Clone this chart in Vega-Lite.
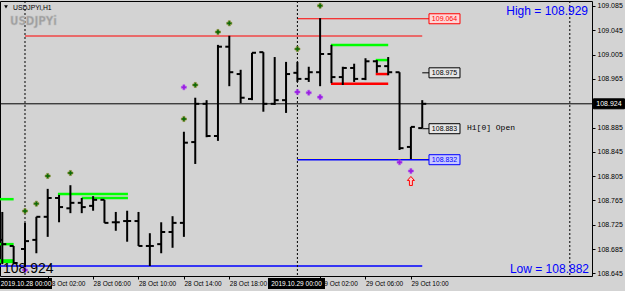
{
 "$schema": "https://vega.github.io/schema/vega-lite/v6.json",
 "width": 592, "height": 275,
 "autosize": {"type": "none"},
 "padding": {"left": 0, "top": 1, "right": 33, "bottom": 15},
 "background": "#d3d3d3",
 "config": {"view": {"stroke": "#000000", "strokeWidth": 1}},
 "resolve": {"axis": {"x": "independent", "y": "independent"}, "scale": {"color": "independent", "fill": "independent", "stroke": "independent"}},
 "datasets": {
  "bars": [
   {"h": -2, "o": 108.700, "hi": 108.746, "lo": 108.660, "c": 108.693},
   {"h": -1, "o": 108.690, "hi": 108.690, "lo": 108.660, "c": 108.662},
   {"h": 0, "o": 108.685, "hi": 108.728, "lo": 108.655, "c": 108.698},
   {"h": 1, "o": 108.700, "hi": 108.738, "lo": 108.678, "c": 108.738},
   {"h": 2, "o": 108.738, "hi": 108.784, "lo": 108.705, "c": 108.769},
   {"h": 3, "o": 108.769, "hi": 108.774, "lo": 108.729, "c": 108.754},
   {"h": 4, "o": 108.752, "hi": 108.790, "lo": 108.744, "c": 108.761},
   {"h": 5, "o": 108.761, "hi": 108.769, "lo": 108.744, "c": 108.754},
   {"h": 6, "o": 108.756, "hi": 108.772, "lo": 108.748, "c": 108.766},
   {"h": 7, "o": 108.766, "hi": 108.766, "lo": 108.728, "c": 108.728},
   {"h": 8, "o": 108.729, "hi": 108.746, "lo": 108.715, "c": 108.729},
   {"h": 9, "o": 108.731, "hi": 108.748, "lo": 108.697, "c": 108.731},
   {"h": 10, "o": 108.731, "hi": 108.746, "lo": 108.690, "c": 108.690},
   {"h": 11, "o": 108.690, "hi": 108.711, "lo": 108.657, "c": 108.690},
   {"h": 12, "o": 108.693, "hi": 108.729, "lo": 108.678, "c": 108.713},
   {"h": 13, "o": 108.713, "hi": 108.739, "lo": 108.687, "c": 108.728},
   {"h": 14, "o": 108.728, "hi": 108.878, "lo": 108.705, "c": 108.860},
   {"h": 15, "o": 108.861, "hi": 108.934, "lo": 108.825, "c": 108.924},
   {"h": 16, "o": 108.924, "hi": 108.930, "lo": 108.869, "c": 108.871},
   {"h": 17, "o": 108.871, "hi": 109.021, "lo": 108.863, "c": 109.018},
   {"h": 18, "o": 109.018, "hi": 109.036, "lo": 108.953, "c": 108.976},
   {"h": 19, "o": 108.973, "hi": 108.980, "lo": 108.925, "c": 108.934},
   {"h": 20, "o": 108.932, "hi": 109.008, "lo": 108.930, "c": 109.008},
   {"h": 21, "o": 109.009, "hi": 109.009, "lo": 108.911, "c": 108.924},
   {"h": 22, "o": 108.924, "hi": 109.001, "lo": 108.922, "c": 108.930},
   {"h": 23, "o": 108.930, "hi": 108.993, "lo": 108.909, "c": 108.973},
   {"h": 24, "o": 108.975, "hi": 108.993, "lo": 108.960, "c": 108.965},
   {"h": 25, "o": 108.965, "hi": 108.985, "lo": 108.960, "c": 108.976},
   {"h": 26, "o": 108.976, "hi": 109.065, "lo": 108.953, "c": 109.006},
   {"h": 27, "o": 109.006, "hi": 109.021, "lo": 108.958, "c": 108.968},
   {"h": 28, "o": 108.968, "hi": 108.985, "lo": 108.955, "c": 108.983},
   {"h": 29, "o": 108.983, "hi": 108.990, "lo": 108.960, "c": 108.965},
   {"h": 30, "o": 108.965, "hi": 108.999, "lo": 108.963, "c": 108.994},
   {"h": 31, "o": 108.994, "hi": 108.996, "lo": 108.975, "c": 108.986},
   {"h": 32, "o": 108.986, "hi": 109.001, "lo": 108.971, "c": 108.976},
   {"h": 33, "o": 108.976, "hi": 108.976, "lo": 108.848, "c": 108.851},
   {"h": 34, "o": 108.853, "hi": 108.886, "lo": 108.833, "c": 108.886},
   {"h": 35, "o": 108.884, "hi": 108.930, "lo": 108.884, "c": 108.924}
  ],
  "levels": [
   {"kind": "red1", "h": 0, "h2": 35, "p": 109.0356},
   {"kind": "red1", "h": 24, "h2": 35.6, "p": 109.064},
   {"kind": "black1", "h": -2.2026, "h2": 49.956, "p": 108.924},
   {"kind": "blue1", "h": -2.2026, "h2": 35, "p": 108.657},
   {"kind": "khaki", "h": 24, "h2": 35.6, "p": 108.8338},
   {"kind": "blue1", "h": 24, "h2": 35.6, "p": 108.832},
   {"kind": "black1", "h": 35, "h2": 35.6, "p": 108.975},
   {"kind": "black1", "h": 35, "h2": 35.6, "p": 108.883},
   {"kind": "green2", "h": -2.2026, "h2": -1.0, "p": 108.767},
   {"kind": "green2", "h": -2.2026, "h2": -1.0, "p": 108.693},
   {"kind": "green4", "h": -2.2026, "h2": -1.0, "p": 108.665},
   {"kind": "green2", "h": 2.9, "h2": 9.07, "p": 108.7755},
   {"kind": "green2", "h": 5.0, "h2": 9.07, "p": 108.769},
   {"kind": "green2", "h": 26.96, "h2": 32, "p": 109.021},
   {"kind": "red2", "h": 26.96, "h2": 32, "p": 108.957},
   {"kind": "green2", "h": 30.9, "h2": 32, "p": 108.996},
   {"kind": "red2", "h": 30.9, "h2": 32, "p": 108.973}
  ],
  "dots": [
   {"kind": "green", "h": 0, "p": 108.7475},
   {"kind": "green", "h": 1, "p": 108.7596},
   {"kind": "green", "h": 2, "p": 108.8052},
   {"kind": "green", "h": 4, "p": 108.8101},
   {"kind": "green", "h": 14, "p": 108.899},
   {"kind": "green", "h": 15, "p": 108.955},
   {"kind": "green", "h": 17, "p": 109.0422},
   {"kind": "green", "h": 18, "p": 109.0565},
   {"kind": "green", "h": 24, "p": 109.0142},
   {"kind": "green", "h": 26, "p": 109.0855},
   {"kind": "purple", "h": 0, "p": 108.6505},
   {"kind": "purple", "h": 14, "p": 108.9512},
   {"kind": "purple", "h": 24, "p": 108.9434},
   {"kind": "purple", "h": 25, "p": 108.9423},
   {"kind": "purple", "h": 26, "p": 108.935},
   {"kind": "purple", "h": 33, "p": 108.8277},
   {"kind": "purple", "h": 34, "p": 108.8134}
  ],
  "tags": [
   {"kind": "red", "h": 36.96, "p": 109.064, "label": "109.064"},
   {"kind": "black", "h": 36.96, "p": 108.975, "label": "108.975"},
   {"kind": "black", "h": 36.96, "p": 108.883, "label": "108.883"},
   {"kind": "blue", "h": 36.96, "p": 108.832, "label": "108.832"},
   {"kind": "cur", "h": 51.45, "p": 108.924, "label": "108.924"}
  ],
  "dates": [
   {"kind": "d1", "h": 0.088, "p": 108.6282, "label": "2019.10.28 00:00"},
   {"kind": "d2", "h": 23.92, "p": 108.6282, "label": "2019.10.29 00:00"}
  ]
 },
 "layer": [
  {
   "data": {"name": "levels"},
   "transform": [{"filter": {"field": "kind", "oneOf": ["red1", "black1", "khaki"]}}],
   "mark": {"type": "rule", "strokeWidth": 1},
   "encoding": {
    "x": {"field": "h", "type": "quantitative", "scale": {"domain": [-2.2026, 49.956], "nice": false, "zero": false}, "axis": null},
    "x2": {"field": "h2"},
    "y": {"field": "p", "type": "quantitative", "scale": {"domain": [108.64056, 109.09323], "nice": false, "zero": false}, "axis": null},
    "color": {"field": "kind", "type": "nominal", "legend": null, "scale": {"domain": ["red1", "red2", "black1", "blue1", "khaki", "green2", "green4"], "range": ["#ff0000", "#ff0000", "#000000", "#0000ff", "#e8e08a", "#00ff00", "#00ff00"]}}
   }
  },
  {
   "data": {"name": "levels"},
   "transform": [{"filter": {"field": "kind", "oneOf": ["blue1"]}}],
   "mark": {"type": "rule", "strokeWidth": 1.5},
   "encoding": {
    "x": {"field": "h", "type": "quantitative", "scale": {"domain": [-2.2026, 49.956], "nice": false, "zero": false}, "axis": null},
    "x2": {"field": "h2"},
    "y": {"field": "p", "type": "quantitative", "scale": {"domain": [108.64056, 109.09323], "nice": false, "zero": false}, "axis": null},
    "color": {"field": "kind", "type": "nominal", "legend": null, "scale": {"domain": ["red1", "red2", "black1", "blue1", "khaki", "green2", "green4"], "range": ["#ff0000", "#ff0000", "#000000", "#0000ff", "#e8e08a", "#00ff00", "#00ff00"]}}
   }
  },
  {
   "data": {"name": "levels"},
   "transform": [{"filter": {"field": "kind", "oneOf": ["green2", "red2"]}}],
   "mark": {"type": "rule", "strokeWidth": 2.5},
   "encoding": {
    "x": {"field": "h", "type": "quantitative", "scale": {"domain": [-2.2026, 49.956], "nice": false, "zero": false}, "axis": null},
    "x2": {"field": "h2"},
    "y": {"field": "p", "type": "quantitative", "scale": {"domain": [108.64056, 109.09323], "nice": false, "zero": false}, "axis": null},
    "color": {"field": "kind", "type": "nominal", "legend": null, "scale": {"domain": ["red1", "red2", "black1", "blue1", "khaki", "green2", "green4"], "range": ["#ff0000", "#ff0000", "#000000", "#0000ff", "#e8e08a", "#00ff00", "#00ff00"]}}
   }
  },
  {
   "data": {"name": "levels"},
   "transform": [{"filter": {"field": "kind", "oneOf": ["green4"]}}],
   "mark": {"type": "rule", "strokeWidth": 4},
   "encoding": {
    "x": {"field": "h", "type": "quantitative", "scale": {"domain": [-2.2026, 49.956], "nice": false, "zero": false}, "axis": null},
    "x2": {"field": "h2"},
    "y": {"field": "p", "type": "quantitative", "scale": {"domain": [108.64056, 109.09323], "nice": false, "zero": false}, "axis": null},
    "color": {"field": "kind", "type": "nominal", "legend": null, "scale": {"domain": ["red1", "red2", "black1", "blue1", "khaki", "green2", "green4"], "range": ["#ff0000", "#ff0000", "#000000", "#0000ff", "#e8e08a", "#00ff00", "#00ff00"]}}
   }
  },
  {
   "data": {"values": [{"h": 0}, {"h": 24}, {"h": 48}]},
   "mark": {"type": "rule", "color": "#000000", "strokeWidth": 1, "strokeDash": [2, 2]},
   "encoding": {
    "x": {"field": "h", "type": "quantitative", "scale": {"domain": [-2.2026, 49.956], "nice": false, "zero": false}, "axis": null}
   }
  },
  {
   "data": {"name": "bars"},
   "mark": {"type": "rule", "color": "#000000", "strokeWidth": 2},
   "encoding": {
    "x": {"field": "h", "type": "quantitative", "scale": {"domain": [-2.2026, 49.956], "nice": false, "zero": false},
     "axis": {"orient": "bottom", "values": [2, 6, 10, 14, 18, 26, 30, 34],
      "labelExpr": "(datum.value < 24 ? '28 Oct ' : '29 Oct ') + ((datum.value % 24) < 10 ? '0' : '') + (datum.value % 24) + ':00'",
      "labelAlign": "left", "labelBaseline": "top", "labelPadding": 1, "labelFont": "Liberation Sans", "labelFontSize": 6.5,
      "labelColor": "#000000", "tickColor": "#000000", "tickSize": 3, "domain": false, "grid": false, "title": null,
      "labelFlush": false, "labelOverlap": false, "labelBound": false}},
    "y": {"field": "lo", "type": "quantitative", "scale": {"domain": [108.64056, 109.09323], "nice": false, "zero": false},
     "axis": {"orient": "right", "values": [109.085, 109.045, 109.005, 108.965, 108.885, 108.845, 108.805, 108.765, 108.725, 108.685, 108.645],
      "format": ".3f", "labelFont": "Liberation Sans", "labelFontSize": 7, "labelColor": "#000000", "tickColor": "#000000",
      "tickSize": 3, "labelPadding": 2, "domain": false, "grid": false, "title": null, "labelOverlap": false, "labelFlush": false, "labelBaseline": "middle"}},
    "y2": {"field": "hi"}
   }
  },
  {
   "data": {"name": "bars"},
   "mark": {"type": "tick", "orient": "horizontal", "size": 4, "thickness": 2, "xOffset": -2, "color": "#000000", "opacity": 1},
   "encoding": {
    "x": {"field": "h", "type": "quantitative", "scale": {"domain": [-2.2026, 49.956], "nice": false, "zero": false}, "axis": null},
    "y": {"field": "o", "type": "quantitative", "scale": {"domain": [108.64056, 109.09323], "nice": false, "zero": false}, "axis": null}
   }
  },
  {
   "data": {"name": "bars"},
   "mark": {"type": "tick", "orient": "horizontal", "size": 4, "thickness": 2, "xOffset": 2, "color": "#000000", "opacity": 1},
   "encoding": {
    "x": {"field": "h", "type": "quantitative", "scale": {"domain": [-2.2026, 49.956], "nice": false, "zero": false}, "axis": null},
    "y": {"field": "c", "type": "quantitative", "scale": {"domain": [108.64056, 109.09323], "nice": false, "zero": false}, "axis": null}
   }
  },
  {
   "data": {"name": "dots"},
   "transform": [{"filter": "datum.kind == 'green'"}],
   "mark": {"type": "point", "shape": "cross", "size": 26, "filled": true, "fill": "#0b6b0b", "stroke": "#8c8c2a", "strokeWidth": 0.6, "opacity": 1},
   "encoding": {
    "x": {"field": "h", "type": "quantitative", "scale": {"domain": [-2.2026, 49.956], "nice": false, "zero": false}, "axis": null},
    "y": {"field": "p", "type": "quantitative", "scale": {"domain": [108.64056, 109.09323], "nice": false, "zero": false}, "axis": null}
   }
  },
  {
   "data": {"name": "dots"},
   "transform": [{"filter": "datum.kind == 'purple'"}],
   "mark": {"type": "point", "shape": "cross", "size": 26, "filled": true, "fill": "#9a1fe0", "stroke": "#b050f0", "strokeWidth": 0.5, "opacity": 1},
   "encoding": {
    "x": {"field": "h", "type": "quantitative", "scale": {"domain": [-2.2026, 49.956], "nice": false, "zero": false}, "axis": null},
    "y": {"field": "p", "type": "quantitative", "scale": {"domain": [108.64056, 109.09323], "nice": false, "zero": false}, "axis": null}
   }
  },
  {
   "data": {"values": [{"h": 34, "p": 108.797}]},
   "mark": {"type": "point", "shape": "M0,-1L0.78,-0.11L0.33,-0.11L0.33,1L-0.33,1L-0.33,-0.11L-0.78,-0.11Z", "size": 81, "filled": true, "fill": "#ffc8c8", "stroke": "#ff0000", "strokeWidth": 1, "opacity": 1},
   "encoding": {
    "x": {"field": "h", "type": "quantitative", "scale": {"domain": [-2.2026, 49.956], "nice": false, "zero": false}, "axis": null},
    "y": {"field": "p", "type": "quantitative", "scale": {"domain": [108.64056, 109.09323], "nice": false, "zero": false}, "axis": null}
   }
  },
  {
   "data": {"name": "tags"},
   "mark": {"type": "point", "shape": "M-1,-0.3226L1,-0.3226L1,0.3226L-1,0.3226Z", "size": 961, "filled": true, "strokeWidth": 1, "opacity": 1},
   "encoding": {
    "x": {"field": "h", "type": "quantitative", "scale": {"domain": [-2.2026, 49.956], "nice": false, "zero": false}, "axis": null},
    "y": {"field": "p", "type": "quantitative", "scale": {"domain": [108.64056, 109.09323], "nice": false, "zero": false}, "axis": null},
    "fill": {"field": "kind", "type": "nominal", "legend": null, "scale": {"domain": ["red", "black", "blue", "cur"], "range": ["#ffd6d6", "#e6e6e6", "#c8c8ff", "#000000"]}},
    "stroke": {"field": "kind", "type": "nominal", "legend": null, "scale": {"domain": ["red", "black", "blue", "cur"], "range": ["#ff0000", "#000000", "#0000ff", "#000000"]}}
   }
  },
  {
   "data": {"name": "tags"},
   "mark": {"type": "text", "align": "center", "baseline": "middle", "font": "Liberation Sans", "fontSize": 7},
   "encoding": {
    "x": {"field": "h", "type": "quantitative", "scale": {"domain": [-2.2026, 49.956], "nice": false, "zero": false}, "axis": null},
    "y": {"field": "p", "type": "quantitative", "scale": {"domain": [108.64056, 109.09323], "nice": false, "zero": false}, "axis": null},
    "text": {"field": "label"},
    "color": {"field": "kind", "type": "nominal", "legend": null, "scale": {"domain": ["red", "black", "blue", "cur"], "range": ["#ff0000", "#000000", "#0000ff", "#ffffff"]}}
   }
  },
  {
   "data": {"name": "dates"},
   "transform": [{"filter": "datum.kind == 'd1'"}],
   "mark": {"type": "point", "shape": "M-1,-0.2115L1,-0.2115L1,0.2115L-1,0.2115Z", "size": 2704, "filled": true, "fill": "#000000", "opacity": 1},
   "encoding": {
    "x": {"field": "h", "type": "quantitative", "scale": {"domain": [-2.2026, 49.956], "nice": false, "zero": false}, "axis": null},
    "y": {"field": "p", "type": "quantitative", "scale": {"domain": [108.64056, 109.09323], "nice": false, "zero": false}, "axis": null}
   }
  },
  {
   "data": {"name": "dates"},
   "transform": [{"filter": "datum.kind == 'd2'"}],
   "mark": {"type": "point", "shape": "M-1,-0.193L1,-0.193L1,0.193L-1,0.193Z", "size": 3249, "filled": true, "fill": "#000000", "opacity": 1},
   "encoding": {
    "x": {"field": "h", "type": "quantitative", "scale": {"domain": [-2.2026, 49.956], "nice": false, "zero": false}, "axis": null},
    "y": {"field": "p", "type": "quantitative", "scale": {"domain": [108.64056, 109.09323], "nice": false, "zero": false}, "axis": null}
   }
  },
  {
   "data": {"name": "dates"},
   "mark": {"type": "text", "align": "center", "baseline": "middle", "font": "Liberation Sans", "fontSize": 6.5, "color": "#ffffff"},
   "encoding": {
    "x": {"field": "h", "type": "quantitative", "scale": {"domain": [-2.2026, 49.956], "nice": false, "zero": false}, "axis": null},
    "y": {"field": "p", "type": "quantitative", "scale": {"domain": [108.64056, 109.09323], "nice": false, "zero": false}, "axis": null},
    "text": {"field": "label"}
   }
  },
  {
   "data": {"values": [{"h": -1.674, "p": 109.0834}]},
   "mark": {"type": "point", "shape": "triangle-down", "size": 14, "filled": true, "fill": "#000000", "opacity": 1},
   "encoding": {
    "x": {"field": "h", "type": "quantitative", "scale": {"domain": [-2.2026, 49.956], "nice": false, "zero": false}, "axis": null},
    "y": {"field": "p", "type": "quantitative", "scale": {"domain": [108.64056, 109.09323], "nice": false, "zero": false}, "axis": null}
   }
  },
  {
   "data": {"values": [{"label": "USDJPYi,H1", "h": -1.057, "p": 109.0784}]},
   "mark": {"type": "text", "align": "left", "baseline": "alphabetic", "font": "Liberation Sans", "fontSize": 6.8, "color": "#000000"},
   "encoding": {
    "x": {"field": "h", "type": "quantitative", "scale": {"domain": [-2.2026, 49.956], "nice": false, "zero": false}, "axis": null},
    "y": {"field": "p", "type": "quantitative", "scale": {"domain": [108.64056, 109.09323], "nice": false, "zero": false}, "axis": null},
    "text": {"field": "label"}
   }
  },
  {
   "data": {"values": [{"label": "USDJPYi", "h": -1.322, "p": 109.0537}]},
   "mark": {"type": "text", "align": "left", "baseline": "alphabetic", "font": "Liberation Sans Narrow, DejaVu Sans Condensed, Liberation Sans", "fontWeight": "bold", "fontSize": 11.5, "color": "#9c9c9c", "stroke": "#bdbdbd", "strokeWidth": 0.5},
   "encoding": {
    "x": {"field": "h", "type": "quantitative", "scale": {"domain": [-2.2026, 49.956], "nice": false, "zero": false}, "axis": null},
    "y": {"field": "p", "type": "quantitative", "scale": {"domain": [108.64056, 109.09323], "nice": false, "zero": false}, "axis": null},
    "text": {"field": "label"}
   }
  },
  {
   "data": {"values": [{"label": "108.924", "h": -1.938, "p": 108.6455}]},
   "mark": {"type": "text", "align": "left", "baseline": "alphabetic", "font": "Liberation Sans", "fontSize": 14, "color": "#000000"},
   "encoding": {
    "x": {"field": "h", "type": "quantitative", "scale": {"domain": [-2.2026, 49.956], "nice": false, "zero": false}, "axis": null},
    "y": {"field": "p", "type": "quantitative", "scale": {"domain": [108.64056, 109.09323], "nice": false, "zero": false}, "axis": null},
    "text": {"field": "label"}
   }
  },
  {
   "data": {"values": [{"label": "High = 108.929", "h": 49.604, "p": 109.0702}, {"label": "Low = 108.882", "h": 49.692, "p": 108.6455}]},
   "mark": {"type": "text", "align": "right", "baseline": "alphabetic", "font": "Liberation Sans", "fontSize": 12, "color": "#0000ff"},
   "encoding": {
    "x": {"field": "h", "type": "quantitative", "scale": {"domain": [-2.2026, 49.956], "nice": false, "zero": false}, "axis": null},
    "y": {"field": "p", "type": "quantitative", "scale": {"domain": [108.64056, 109.09323], "nice": false, "zero": false}, "axis": null},
    "text": {"field": "label"}
   }
  },
  {
   "data": {"values": [{"label": "H1[0] Open", "h": 38.943, "p": 108.8842}]},
   "mark": {"type": "text", "align": "left", "baseline": "middle", "font": "Liberation Mono", "fontSize": 8, "color": "#000000"},
   "encoding": {
    "x": {"field": "h", "type": "quantitative", "scale": {"domain": [-2.2026, 49.956], "nice": false, "zero": false}, "axis": null},
    "y": {"field": "p", "type": "quantitative", "scale": {"domain": [108.64056, 109.09323], "nice": false, "zero": false}, "axis": null},
    "text": {"field": "label"}
   }
  }
 ]
}
